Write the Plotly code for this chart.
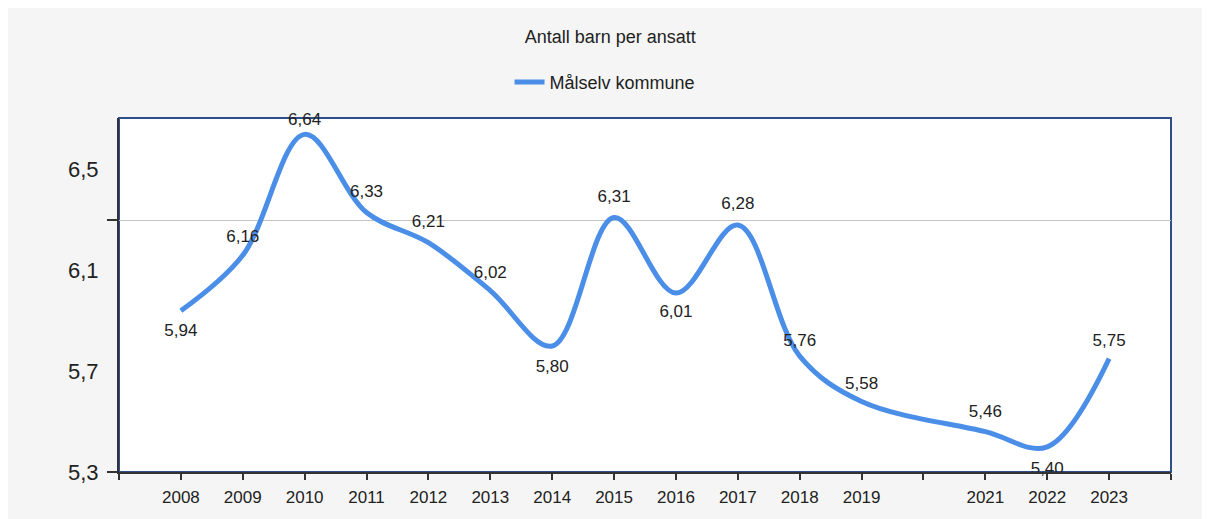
import plotly.graph_objects as go

# Data
years = [2008, 2009, 2010, 2011, 2012, 2013, 2014, 2015, 2016, 2017, 2018, 2019, 2021, 2022, 2023]
values = [5.94, 6.16, 6.64, 6.33, 6.21, 6.02, 5.80, 6.31, 6.01, 6.28, 5.76, 5.58, 5.46, 5.40, 5.75]
axis_years = list(range(2007, 2025))
y_labels = [5.3, 5.7, 6.1, 6.5]
y_marks = [5.3, 6.3]

series_name = "Målselv kommune"
title = "Antall barn per ansatt"

# value label placement (styling only)
label_pos = ["bottom center", "top center", "top center", "top center", "top center",
             "top center", "bottom center", "top center", "bottom center", "top center",
             "top center", "top center", "top center", "bottom center", "top center"]
label_gap = [19, 13, 7, 16, 16, 12, 19, 16, 17, 17, 7, 12, 15, 22, 11]

text = [f"{v:.2f}".replace(".", ",") for v in values]
tick_text = [str(y) if y in years else "" for y in axis_years]

LINE = "#4a8ee8"
FONT = "Liberation Sans, Arial, sans-serif"

fig = go.Figure()

fig.add_trace(go.Scatter(
    x=years, y=values, mode="lines+markers+text",
    line=dict(color=LINE, width=5, shape="spline", smoothing=1.0),
    # transparent markers only push the value labels away from the line
    marker=dict(size=label_gap, color="rgba(0,0,0,0)", line=dict(width=0)),
    text=text, textposition=label_pos,
    textfont=dict(size=17, color="#222"),
    name=series_name,
    cliponaxis=False,
))

# invisible copy so the second y axis (grid + tick marks) gets drawn
fig.add_trace(go.Scatter(
    x=years, y=values, yaxis="y2", mode="lines",
    line=dict(color="rgba(0,0,0,0)"), hoverinfo="skip", showlegend=False,
))

yr = [5.3, 6.705]

# page body adds an 8px white border, so the figure is 8px smaller
fig.update_layout(
    width=1202, height=511,
    margin=dict(l=111, r=39, t=110, b=45),
    paper_bgcolor="#f5f5f5",
    plot_bgcolor="white",
    separators=",.",
    font=dict(family=FONT, color="#222"),
    title=dict(text=title, x=0.501, xref="container", xanchor="center",
               y=0.943, yref="container", yanchor="middle",
               font=dict(size=18, color="#222")),
    showlegend=True,
    legend=dict(orientation="h", x=0.462, xanchor="center", y=1.101, yanchor="middle",
                bgcolor="rgba(0,0,0,0)", font=dict(size=18, color="#222")),
    xaxis=dict(range=[2007, 2024], tickvals=axis_years, ticktext=tick_text,
               ticks="outside", ticklen=6, tickcolor="#333", tickwidth=1.5,
               showline=True, linecolor="#333", linewidth=2,
               showgrid=False, zeroline=False,
               tickfont=dict(size=17, color="#222"), ticklabelstandoff=3),
    yaxis=dict(range=yr, tickvals=y_labels, ticks="", showgrid=False, zeroline=False,
               showline=True, linecolor="#333", linewidth=2,
               tickfont=dict(size=22, color="#222"), ticklabelstandoff=14),
    yaxis2=dict(range=yr, overlaying="y", side="left", tickvals=y_marks,
                ticks="outside", ticklen=11, tickcolor="#333", tickwidth=1.5,
                showticklabels=False, showgrid=True, gridcolor="#c4c4c4", gridwidth=1,
                zeroline=False, showline=False),
    shapes=[
        # navy frame around the plot area (top and right visible)
        dict(type="rect", xref="paper", yref="paper", x0=0, x1=1, y0=0, y1=1,
             fillcolor="white", line=dict(color="#2f4e8a", width=2), layer="below"),
    ],
)

fig.write_html("out.html")
